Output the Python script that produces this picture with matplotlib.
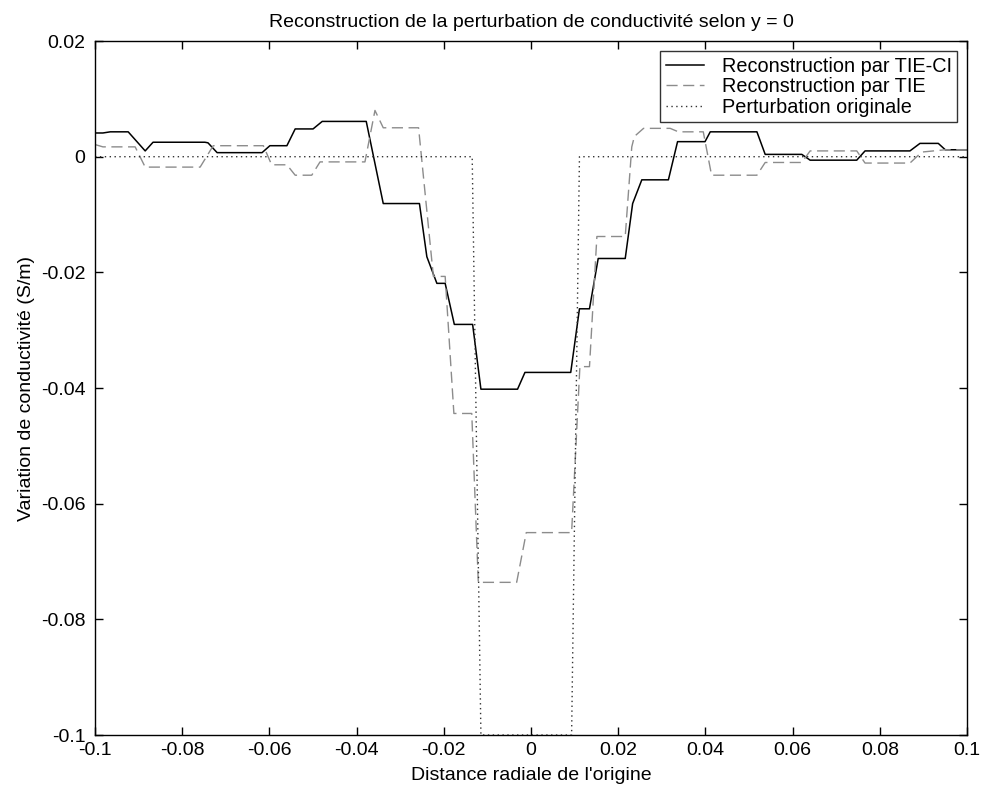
import numpy as np
import matplotlib
matplotlib.use("Agg")
import matplotlib.pyplot as plt

plt.rcParams['font.family'] = ['Liberation Sans', 'DejaVu Sans']

# Reconstruction par TIE-CI (trait plein)
x_ci = [-0.1, -0.0982, -0.0965, -0.0924, -0.0885, -0.0867, -0.0748, -0.0741, -0.072, -0.0617,
        -0.0599, -0.056, -0.0541, -0.05, -0.0479, -0.0378, -0.0339, -0.0256, -0.0239, -0.0216,
        -0.0197, -0.0176, -0.0134, -0.0115, -0.0031, -0.0014, 0.0091, 0.0111, 0.0134, 0.0154,
        0.0216, 0.0233, 0.0254, 0.0315, 0.0336, 0.0399, 0.0411, 0.0518, 0.0537, 0.0621,
        0.064, 0.0747, 0.0766, 0.0869, 0.0892, 0.0934, 0.095, 0.1]
y_ci = [0.0041, 0.0041, 0.0043, 0.0043, 0.001, 0.0025, 0.0025, 0.0024, 0.0007, 0.0007,
        0.0019, 0.0019, 0.0048, 0.0048, 0.0061, 0.0061, -0.0081, -0.0081, -0.0173, -0.0219,
        -0.0219, -0.029, -0.029, -0.0402, -0.0402, -0.0373, -0.0373, -0.0263, -0.0263, -0.0176,
        -0.0176, -0.0081, -0.004, -0.004, 0.0026, 0.0026, 0.0043, 0.0043, 0.0004, 0.0004,
        -0.0006, -0.0006, 0.001, 0.001, 0.0023, 0.0023, 0.0012, 0.0012]

# Reconstruction par TIE (tirets)
x_tie = [-0.1, -0.0982, -0.0908, -0.0885, -0.0759, -0.0729, -0.0614, -0.0595, -0.056, -0.0541,
         -0.0503, -0.0484, -0.0381, -0.0358, -0.0339, -0.0258, -0.0224, -0.0197, -0.0177, -0.0136,
         -0.0121, -0.0033, -0.0011, 0.0093, 0.0112, 0.0134, 0.0151, 0.0216, 0.0231, 0.0237,
         0.0258, 0.0319, 0.0338, 0.0395, 0.0414, 0.0518, 0.0537, 0.0621, 0.064, 0.0747,
         0.0766, 0.0869, 0.0896, 0.095, 0.1]
y_tie = [0.0021, 0.0017, 0.0017, -0.0018, -0.0018, 0.0019, 0.0019, -0.0014, -0.0014, -0.0032,
         -0.0032, -0.0009, -0.0009, 0.008, 0.005, 0.005, -0.0207, -0.0207, -0.0444, -0.0444,
         -0.0736, -0.0736, -0.065, -0.065, -0.0363, -0.0363, -0.0138, -0.0138, 0.0017, 0.0035,
         0.0049, 0.0049, 0.0043, 0.0043, -0.0032, -0.0032, -0.001, -0.001, 0.001, 0.001,
         -0.0011, -0.0011, 0.0008, 0.0012, 0.0012]

# Perturbation originale (pointillés)
x_orig = [-0.1, -0.0135, -0.0115, 0.0093, 0.0111, 0.1]
y_orig = [0, 0, -0.1, -0.1, 0, 0]

xticks = [-0.1, -0.08, -0.06, -0.04, -0.02, 0, 0.02, 0.04, 0.06, 0.08, 0.1]
xlabels = ['-0.1', '-0.08', '-0.06', '-0.04', '-0.02', '0', '0.02', '0.04', '0.06', '0.08', '0.1']
yticks = [-0.1, -0.08, -0.06, -0.04, -0.02, 0, 0.02]
ylabels = ['-0.1', '-0.08', '-0.06', '-0.04', '-0.02', '0', '0.02']

fig = plt.figure(figsize=(9.87, 7.89), dpi=100)
ax = fig.add_axes([0.0963, 0.0684, 0.8835, 0.8796])

ax.plot(x_ci, y_ci, color='black', lw=1.1, label='Reconstruction par TIE-CI')
ax.plot(x_tie, y_tie, color='#8c8c8c', lw=1.0, ls=(0, (8, 4)), label='Reconstruction par TIE')
ax.plot(x_orig, y_orig, color='#333333', lw=1.0, ls=(0, (1, 2.5)), label='Perturbation originale')

ax.set_xlim(-0.1, 0.1)
ax.set_ylim(-0.1, 0.02)
ax.set_xticks(xticks)
ax.set_xticklabels(xlabels)
ax.set_yticks(yticks)
ax.set_yticklabels(ylabels)
ax.tick_params(direction='in', length=6, width=1, top=True, right=True, labelsize=14)
ax.tick_params(axis='x', pad=5)
ax.tick_params(axis='y', pad=7)
for s in ax.spines.values():
    s.set_linewidth(1)

ax.set_title('Reconstruction de la perturbation de conductivité selon y = 0', fontsize=14, pad=10)
ax.set_xlabel("Distance radiale de l'origine", fontsize=14, labelpad=6)
ax.set_ylabel('Variation de conductivité (S/m)', fontsize=14, labelpad=4)

leg = ax.legend(loc='upper right', fontsize=14.3, frameon=True, fancybox=False,
                edgecolor='black', borderaxespad=0.5, handlelength=1.9,
                handletextpad=0.9, labelspacing=0.08, borderpad=0.28)
leg.get_frame().set_linewidth(1)

fig.savefig('out.png', dpi=100)
